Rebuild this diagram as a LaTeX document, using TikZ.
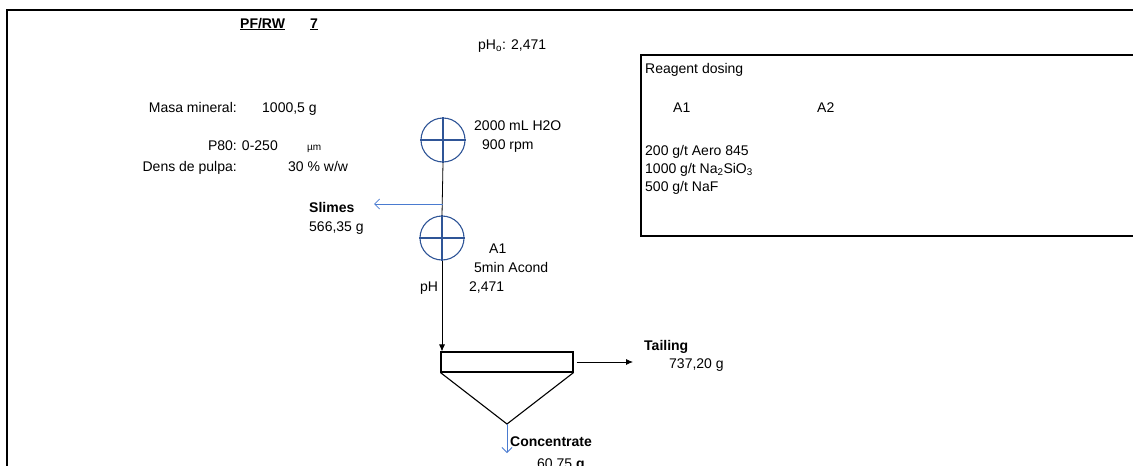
\documentclass[tikz,border=0pt]{standalone}
\usepackage{fontspec}
\setmainfont{Liberation Sans}
\usetikzlibrary{arrows.meta}
\definecolor{mixblue}{HTML}{2F5597}
\definecolor{flowblue}{HTML}{4A7BD0}
\tikzset{
  txt/.style={inner sep=0pt, anchor=base west, font=\fontsize{14}{17}\selectfont},
  txtr/.style={inner sep=0pt, anchor=base east, font=\fontsize{14}{17}\selectfont},
  btxt/.style={txt, font=\fontsize{14}{17}\selectfont\bfseries},
  mixer/.style={circle, draw=mixblue, line width=1.1pt, minimum size=44pt, inner sep=0pt},
  frameline/.style={line width=2pt},
  flow/.style={line width=0.8pt},
  blueflow/.style={draw=flowblue, line width=0.8pt, -{Straight Barb[length=5pt,width=10pt]}},
  blackflow/.style={line width=0.8pt, -{Latex[length=7pt,width=6pt]}},
}
\begin{document}
\begin{tikzpicture}[x=1pt,y=-1pt]
\useasboundingbox (0,0) rectangle (1133,466);
\begin{scope}
\clip (0,0) rectangle (1133,466);
% outer frame
\draw[frameline] (7,480) -- (7,10) -- (1140,10);
% reagent box
\draw[frameline] (1140,55) -- (641,55) -- (641,236) -- (1140,236);

% header
\node[btxt] (title) at (240,28) {\underline{PF/RW}};
\node[btxt] (num) at (310,28) {\underline{7}};
\node[txt] (pho) at (478,49) {pH\textsubscript{o}: 2,471};

% left data
\node[txtr] (masaL) at (237,112) {Masa mineral:};
\node[txt] (masaV) at (262,112) {1000,5 g};
\node[txtr] (p80L) at (278,150) {P80: 0-250};
\node[txt, font=\fontsize{10}{12}\selectfont] (p80U) at (307,150) {µm};
\node[txtr] (densL) at (237,171) {Dens de pulpa:};
\node[txt] (densV) at (288,171) {30 \% w/w};

% reagent box text
\node[txt] (rd) at (645,73) {Reagent dosing};
\node[txt] (ra1) at (673,112) {A1};
\node[txt] (ra2) at (817,112) {A2};
\node[txt] (r1) at (645,155) {200 g/t Aero 845};
\node[txt] (r2) at (645,173) {1000 g/t Na\textsubscript{2}SiO\textsubscript{3}};
\node[txt] (r3) at (645,191) {500 g/t NaF};

% mixers
\node[mixer] (m1) at (443,140) {};
\draw[mixblue, line width=1.1pt] (m1.north) -- (m1.south) (m1.west) -- (m1.east);
\node[txt] (m1a) at (474,130) {2000 mL H2O};
\node[txt] (m1b) at (482,149) {900 rpm};

\node[mixer] (m2) at (442,238) {};
\draw[mixblue, line width=1.1pt] (m2.north) -- (m2.south) (m2.west) -- (m2.east);
\node[txt] (m2a) at (489,253) {A1};
\node[txt] (m2b) at (474,272) {5min Acond};
\node[txt] (m2c) at (420,291) {pH};
\node[txt] (m2d) at (469,291) {2,471};

% flotation cell
\node[draw, line width=1.1pt, minimum width=132pt, minimum height=20pt, inner sep=0pt] (cell) at (507,362) {};
\coordinate (apex) at (507,424);
\draw[line width=1.1pt] (cell.south west) -- (apex) -- (cell.south east);

% flows
\draw[flow] (m1.south) -- (m2.north);
\coordinate (split) at (443,204);
\coordinate (slimesEnd) at (374,204);
\draw[blueflow] (split) -- (slimesEnd);
\node[btxt] (slimes) at (309,212) {Slimes};
\node[txt] (slimesV) at (309,231) {566,35 g};

\draw[blackflow] (m2.south) -- (m2.south |- cell.north);

\coordinate (tailEnd) at (633,362);
\draw[blackflow] ([xshift=3pt]cell.east) -- (tailEnd);
\node[btxt] (tail) at (644,350) {Tailing};
\node[txt] (tailV) at (669,368) {737,20 g};

\coordinate (concEnd) at (507,453);
\draw[blueflow] (apex) -- (concEnd);
\node[btxt] (conc) at (510,446) {Concentrate};
\node[txt] (concV) at (537,468) {60,75 \textbf{g}};
\end{scope}
\end{tikzpicture}
\end{document}
